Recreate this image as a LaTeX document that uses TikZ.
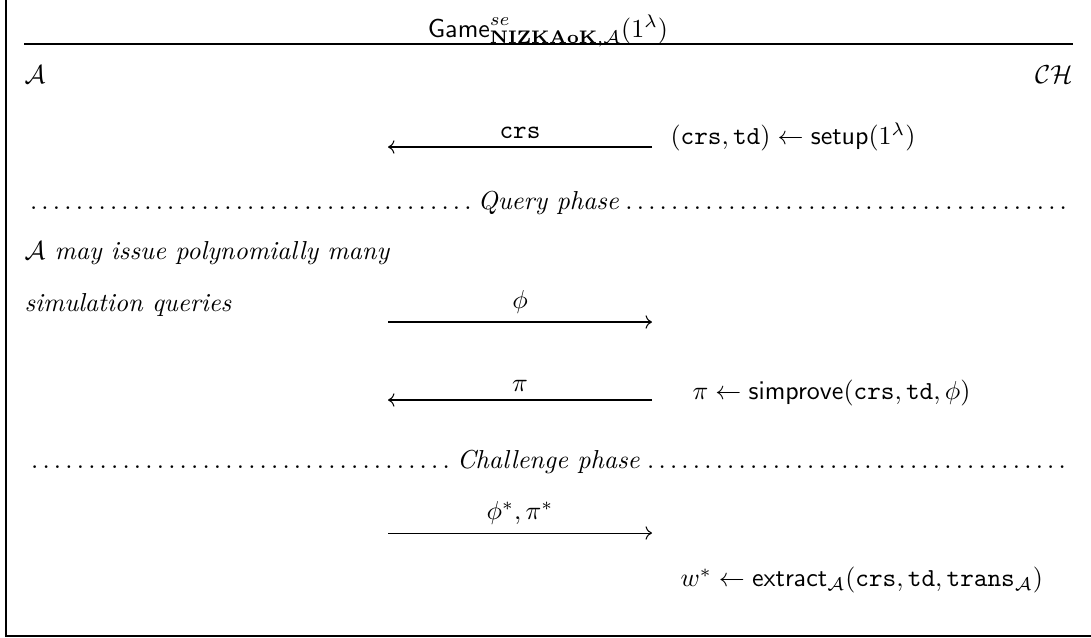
\documentclass[tikz,border=0pt]{standalone}
\usepackage{amsmath}
\usepackage{amssymb}
\usepackage{tikz}
\usetikzlibrary{arrows.meta,positioning}

\begin{document}
\begin{tikzpicture}[
  x=0.385pt, y=-0.385pt,
  msg/.style={->, line width=0.4pt},
  lbl/.style={above, inner sep=3pt},
  party/.style={inner sep=0pt},
  phase/.style={inner sep=0pt}
]
\useasboundingbox (0,0) rectangle (1091,637);
\draw[line width=0.5pt] (6,0) -- (6,636) -- (1091,636);

\node (title) at (548,31) {$\mathsf{Game}^{se}_{\mathbf{NIZKAoK},\mathcal{A}}(1^\lambda)$};
\coordinate (ruleL) at (24,44);
\coordinate (ruleR) at (1073,44);
\draw[line width=0.5pt] (ruleL) -- (ruleR);

\node[party, anchor=west] (adv) at (24,75) {$\mathcal{A}$};
\node[party, anchor=east] (chal) at (1073,75) {$\mathcal{CH}$};

\coordinate (crsR) at (652,147);
\coordinate (crsL) at (388,147);
\draw[msg] (crsR) -- node[lbl] {$\mathtt{crs}$} (crsL);
\node[party, anchor=west] (setup) at (670,137) {$(\mathtt{crs},\mathtt{td}) \leftarrow \mathsf{setup}(1^\lambda)$};

\node[phase] (query) at (548.5,203) {\makebox[404pt]{\dotfill\textit{Query phase}\dotfill}};

\node[party, anchor=west] (issue) at (24,253) {\textit{$\mathcal{A}$ may issue polynomially many}};
\node[party, anchor=west] (simq) at (24,305) {\textit{simulation queries}};

\coordinate (phiL) at (388,322);
\coordinate (phiR) at (652,322);
\draw[msg] (phiL) -- node[lbl] {$\phi$} (phiR);

\coordinate (piR) at (652,400);
\coordinate (piL) at (388,400);
\draw[msg] (piR) -- node[lbl] {$\pi$} (piL);
\node[party, anchor=west] (simprove) at (692,393) {$\pi \leftarrow \mathsf{simprove}(\mathtt{crs},\mathtt{td},\phi)$};

\node[phase] (challenge) at (548.5,462) {\makebox[404pt]{\dotfill\textit{Challenge phase}\dotfill}};

\coordinate (outL) at (388,533);
\coordinate (outR) at (652,533);
\draw[msg] (outL) -- node[lbl] {$\phi^*,\pi^*$} (outR);

\node[party, anchor=west] (extract) at (680,580) {$w^* \leftarrow \mathsf{extract}_{\mathcal{A}}(\mathtt{crs},\mathtt{td},\mathtt{trans}_{\mathcal{A}})$};
\end{tikzpicture}
\end{document}
